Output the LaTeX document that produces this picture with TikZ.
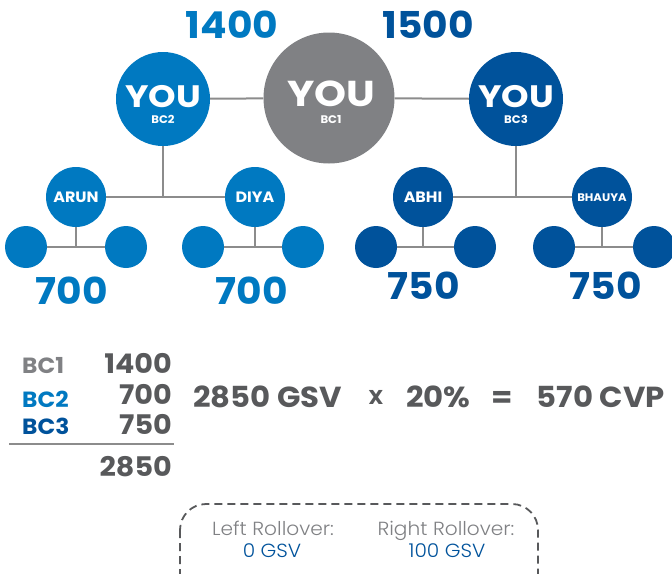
\documentclass[tikz,border=0pt]{standalone}
\usepackage{fontspec}
\setmainfont{Poppins}[FakeStretch=1.06]
\newfontfamily\lightf{Poppins}[UprightFont=* Light,FakeStretch=1.06]
\newfontfamily\widef{Poppins}[FakeStretch=1.13]
\definecolor{cgray}{HTML}{808184}
\definecolor{cblue}{HTML}{0079C1}
\definecolor{cdark}{HTML}{00529B}
\definecolor{cline}{HTML}{8C8C8C}
\definecolor{ctext}{HTML}{58595B}
\begin{document}
\begin{tikzpicture}[x=1pt,y=-1pt,
  dot/.style={circle,inner sep=0pt,minimum size=#1},
  link/.style={draw=cline,line width=2pt},
  fs/.style={font=\fontsize{#1}{#1}\selectfont\bfseries},
  ws/.style={font=\widef\fontsize{#1}{#1}\selectfont\bfseries,text depth=0pt},
  ls/.style={font=\lightf\fontsize{#1}{#1}\selectfont},
  txt/.style={inner sep=0pt,anchor=base},
  sub/.style={txt,fs=11,text=white,text height=8pt,text depth=0pt},
]
\useasboundingbox (0,0) rectangle (672,573);
% main circles
\node[dot=131pt,fill=cgray] (bc1) at (329,98) {};
\node[dot=94pt,fill=cblue] (bc2) at (163,99) {};
\node[dot=94pt,fill=cdark] (bc3) at (516,99) {};
% second level
\node[dot=60pt,fill=cblue] (arun) at (76,197) {};
\node[dot=60pt,fill=cblue] (diya) at (255,197) {};
\node[dot=60pt,fill=cdark] (abhi) at (423,197) {};
\node[dot=60pt,fill=cdark] (bhauya) at (602,197) {};
% leaves
\node[dot=42pt,fill=cblue] (l1) at (26,247) {};
\node[dot=42pt,fill=cblue] (l2) at (126,247) {};
\node[dot=42pt,fill=cblue] (l3) at (203,247) {};
\node[dot=42pt,fill=cblue] (l4) at (303,247) {};
\node[dot=42pt,fill=cdark] (l5) at (376,247) {};
\node[dot=42pt,fill=cdark] (l6) at (475,247) {};
\node[dot=42pt,fill=cdark] (l7) at (554,247) {};
\node[dot=42pt,fill=cdark] (l8) at (654,247) {};
% junctions
\coordinate (j2) at (163,197);
\coordinate (j3) at (516,197);
\coordinate (ja) at (76,247);
\coordinate (jd) at (255,247);
\coordinate (jb) at (423,247);
\coordinate (jh) at (602,247);
% connectors
\draw[link] (bc2) -- (bc1);
\draw[link] (bc1) -- (bc3);
\draw[link] (bc2) -- (j2);
\draw[link] (bc3) -- (j3);
\draw[link] (arun) -- (diya);
\draw[link] (abhi) -- (bhauya);
\draw[link] (arun) -- (ja);
\draw[link] (diya) -- (jd);
\draw[link] (abhi) -- (jb);
\draw[link] (bhauya) -- (jh);
\draw[link] (l1) -- (l2);
\draw[link] (l3) -- (l4);
\draw[link] (l5) -- (l6);
\draw[link] (l7) -- (l8);
% texts in circles
\node[txt,ws=36,text=white] at (331,106) {YOU};
\node[sub] at (331,123) {BC1};
\node[txt,ws=31,text=white] at (163,107) {YOU};
\node[sub] at (163,123) {BC2};
\node[txt,ws=31,text=white] at (516,107) {YOU};
\node[sub] at (516,123) {BC3};
\node[txt,fs=15,text=white] at (76,202) {ARUN};
\node[txt,fs=15,text=white] at (255,202) {DIYA};
\node[txt,fs=15,text=white] at (423,202) {ABHI};
\node[txt,fs=11,text=white] at (602,201) {BHAUYA};
% volumes
\node[txt,fs=37,text=cblue] at (232,38) {1400};
\node[txt,fs=37,text=cdark] at (428,38) {1500};
\node[txt,fs=37,text=cblue] at (72,304) {700};
\node[txt,fs=37,text=cblue] at (252,304) {700};
\node[txt,fs=37,text=cdark] at (424,299) {750};
\node[txt,fs=37,text=cdark] at (606,299) {750};
% table
\node[txt,anchor=base west,fs=22,text=cgray] at (22,373) {BC1};
\node[txt,anchor=base west,fs=22,text=cblue] at (22,407) {BC2};
\node[txt,anchor=base west,fs=22,text=cdark] at (22,434) {BC3};
\node[txt,anchor=base east,fs=27,text=ctext] at (172,373) {1400};
\node[txt,anchor=base east,fs=27,text=ctext] at (172,404) {700};
\node[txt,anchor=base east,fs=27,text=ctext] at (172,434) {750};
\node[txt,anchor=base east,fs=27,text=ctext] at (172,476) {2850};
\coordinate (ruleL) at (9,444);
\coordinate (ruleR) at (174,444);
\draw[draw=cline,line width=1.5pt] (ruleL) -- (ruleR);
% equation
\node[txt,anchor=base west,fs=29,text=ctext] at (193,407) {2850 GSV};
\node[txt,fs=20,text=ctext] at (376,404) {X};
\node[txt,anchor=base west,fs=29,text=ctext] at (406,407) {20\%};
\node[txt,fs=29,text=ctext] at (502,407) {=};
\node[txt,anchor=base east,fs=29,text=ctext] at (665,407) {570 CVP};
% rollover box
\draw[draw=ctext,line width=1.8pt,dash pattern=on 8pt off 5pt,rounded corners=26pt] (180,504) rectangle (538,600);
\node[txt,ls=19,text=cgray] at (273,535) {Left Rollover:};
\node[txt,ls=19,text=cdark] at (272,557) {0 GSV};
\node[txt,ls=19,text=cgray] at (446,535) {Right Rollover:};
\node[txt,ls=19,text=cdark] at (447,557) {100 GSV};
\end{tikzpicture}
\end{document}
